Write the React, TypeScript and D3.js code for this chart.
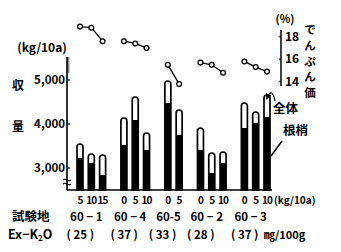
import React from "react";
import * as d3 from "d3";

const sites = ["60 − 1", "60 − 4", "60-5", "60 − 2", "60 − 3"];
const exK = [25, 37, 33, 28, 37];
const doses = [[5, 10, 15], [0, 5, 10], [0, 5], [0, 5, 10], [0, 5, 10]];
const totalYield = [
  [3545, 3318, 3295],
  [4136, 4614, 3795],
  [4977, 4318],
  [3909, 3341, 3364],
  [4477, 4273, 4659],
];
const rootYield = [
  [3227, 3114, 2841],
  [3523, 4091, 3409],
  [4477, 3750],
  [3409, 2886, 3114],
  [3909, 4023, 4159],
];
const starch = [
  [18.9, 18.8, 17.6],
  [17.6, 17.4, 17.0],
  [15.5, 13.8],
  [15.7, 15.5, 14.8],
  [15.8, 15.3, 14.9],
];
const yTicks = [3000, 4000, 5000];
const rTicks = [14, 16, 18];
const starchLabel = ["で", "ん", "ぷ", "ん", "価"];

const FONT = "'Noto Sans CJK JP', 'Noto Sans', sans-serif";
const GAP = 0.885;

export default function App() {
  const bars: { g: number; j: number; slot: number; dose: number; total: number; root: number; st: number }[] = [];
  let idx = 0;
  doses.forEach((ds, g) => {
    ds.forEach((d, j) => {
      bars.push({ g, j, slot: idx + g * GAP, dose: d, total: totalYield[g][j], root: rootYield[g][j], st: starch[g][j] });
      idx++;
    });
  });
  const maxSlot = d3.max(bars, (b) => b.slot) as number;
  const x = d3.scaleLinear().domain([0, maxSlot]).range([80, 267]);
  const y = d3.scaleLinear().domain([3000, 5000]).range([168, 80]);
  const yr = d3.scaleLinear().domain([14, 18]).range([81.7, 36.7]);
  const base = y(2500);
  const axisX = 67;
  const rAxisX = 281;
  const w = 6;
  const r = w / 2;

  const groupCenters = doses.map((_, g) => {
    const bs = bars.filter((b) => b.g === g);
    return (x(bs[0].slot) + x(bs[bs.length - 1].slot)) / 2;
  });

  const line = d3
    .line<(typeof bars)[number]>()
    .x((b) => x(b.slot))
    .y((b) => yr(b.st));

  const ladder = d3.range(58, 74, 2);

  return (
    <svg
      width={341}
      height={252}
      style={{ position: "absolute", left: 0, top: 0, background: "#fff" }}
      fontFamily={FONT}
      fontWeight={700}
    >
      <rect width={341} height={252} fill="#fff" />
      <defs>
        <marker id="ah" viewBox="0 0 6 6" refX="3" refY="3" markerWidth="5" markerHeight="5" orient="auto">
          <path d="M0,0 L6,3 L0,6 Z" fill="#000" />
        </marker>
      </defs>

      {/* left axis */}
      <line x1={axisX} x2={axisX} y1={57} y2={base} stroke="#000" strokeWidth={1.6} />
      {ladder.map((ly) => (
        <line key={ly} x1={axisX} x2={axisX + 2.5} y1={ly} y2={ly} stroke="#000" strokeWidth={0.9} />
      ))}
      {yTicks.map((t) => (
        <g key={t}>
          <line x1={axisX} x2={axisX + 3} y1={y(t)} y2={y(t)} stroke="#000" strokeWidth={1.2} />
          <text x={axisX - 2} y={y(t)} dy="0.35em" textAnchor="end" fontSize={11.5}>
            {d3.format(",")(t)}
          </text>
        </g>
      ))}
      {/* axis break */}
      <path d={`M${axisX - 4},180 q2,-1.5 4,0 t4,0`} fill="none" stroke="#000" strokeWidth={1.1} />
      <path d={`M${axisX - 4},184 q2,-1.5 4,0 t4,0`} fill="none" stroke="#000" strokeWidth={1.1} />

      {/* baseline */}
      <line x1={axisX} x2={272} y1={base} y2={base} stroke="#000" strokeWidth={1.6} />

      {/* bars */}
      {bars.map((b, i) => {
        const cx = x(b.slot);
        const x0 = cx - r;
        const x1 = cx + r;
        const top = y(b.total);
        const d = `M${x0},${base} L${x0},${top + r} A${r},${r} 0 0 1 ${x1},${top + r} L${x1},${base} Z`;
        return (
          <g key={i}>
            <path d={d} fill="#fff" stroke="#000" strokeWidth={1.7} />
            <rect x={x0} y={y(b.root)} width={w} height={base - y(b.root)} fill="#000" />
          </g>
        );
      })}

      {/* starch lines */}
      {doses.map((_, g) => {
        const bs = bars.filter((b) => b.g === g);
        return <path key={g} d={line(bs) || ""} fill="none" stroke="#000" strokeWidth={1.3} />;
      })}
      {bars.map((b, i) => (
        <circle key={i} cx={x(b.slot)} cy={yr(b.st)} r={2.4} fill="#fff" stroke="#000" strokeWidth={1.3} />
      ))}

      {/* right axis */}
      <line x1={rAxisX} x2={rAxisX} y1={30} y2={86} stroke="#000" strokeWidth={1.5} />
      {rTicks.map((t) => (
        <g key={t}>
          <line x1={rAxisX - 2} x2={rAxisX} y1={yr(t)} y2={yr(t)} stroke="#000" strokeWidth={1.2} />
          <text x={rAxisX + 4} y={yr(t)} dy="0.35em" fontSize={12}>
            {t}
          </text>
        </g>
      ))}
      <text x={285} y={19} dy="0.35em" textAnchor="middle" fontSize={11}>
        (%)
      </text>
      {starchLabel.map((c, i) => (
        <text key={i} x={310} y={30 + i * 15.8} dy="0.35em" textAnchor="middle" fontSize={11.5}>
          {c}
        </text>
      ))}

      {/* left labels */}
      <text x={42} y={48} dy="0.35em" textAnchor="middle" fontSize={12}>
        (kg/10a)
      </text>
      <text x={18} y={86} dy="0.35em" textAnchor="middle" fontSize={12}>
        収
      </text>
      <text x={18} y={127} dy="0.35em" textAnchor="middle" fontSize={12}>
        量
      </text>

      {/* annotations */}
      <path d="M275,101 Q272,87 267.5,97" fill="none" stroke="#000" strokeWidth={1.2} markerEnd="url(#ah)" />
      <text x={273} y={109} dy="0.35em" fontSize={12.5}>
        全体
      </text>
      <line x1={282} y1={141} x2={271} y2={156} stroke="#000" strokeWidth={1.4} />
      <text x={283} y={131} dy="0.35em" fontSize={12.5}>
        根梢
      </text>

      {/* dose labels */}
      {bars.map((b, i) => (
        <text key={i} x={x(b.slot)} y={200} dy="0.35em" textAnchor="middle" fontSize={10} letterSpacing={-0.8}>
          {b.dose}
        </text>
      ))}
      <text x={274} y={200} dy="0.35em" fontSize={10}>
        (kg/10a)
      </text>

      {/* site labels */}
      <text x={12} y={217} dy="0.35em" fontSize={12.5}>
        試験地
      </text>
      {sites.map((s, g) => (
        <text key={s} x={groupCenters[g] - 5} y={217} dy="0.35em" textAnchor="middle" fontSize={11.5}>
          {s}
        </text>
      ))}

      {/* Ex-K2O */}
      <text x={8} y={235} dy="0.35em" fontSize={12.5}>
        Ex−K<tspan fontSize={8} dy="2">2</tspan>
        <tspan dy="-2">O</tspan>
      </text>
      {exK.map((v, g) => (
        <text key={g} x={groupCenters[g] - 11} y={235} dy="0.35em" textAnchor="middle" fontSize={11.5}>
          {`( ${v} )`}
        </text>
      ))}
      <text x={264} y={235} dy="0.35em" fontSize={11}>
        ㎎/100g
      </text>
    </svg>
  );
}
